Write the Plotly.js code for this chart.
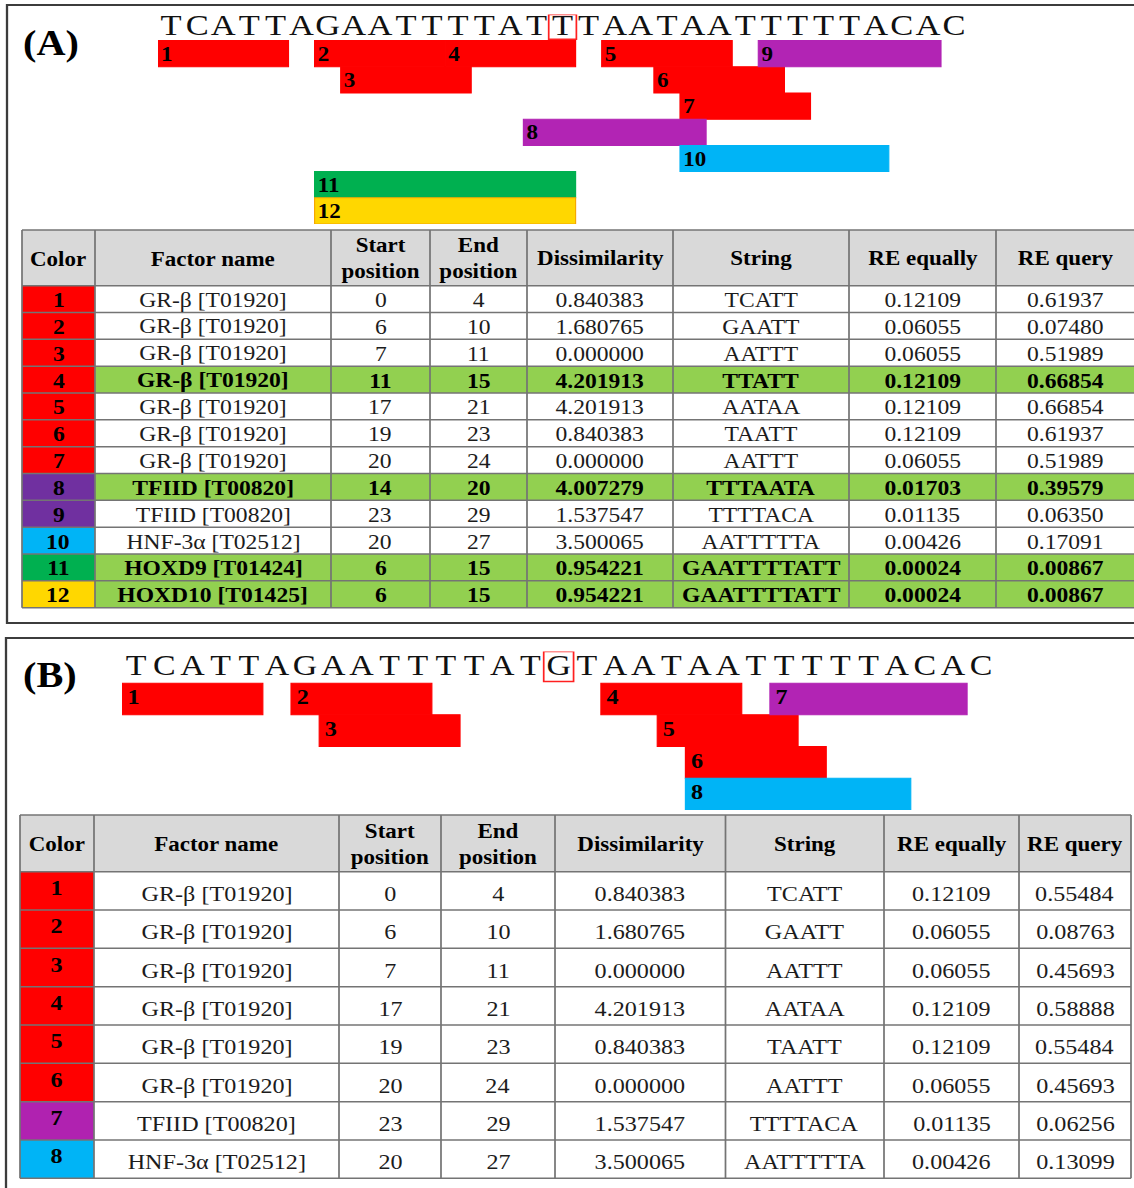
<!DOCTYPE html>
<html><head><meta charset="utf-8">
<script src="https://cdn.plot.ly/plotly-3.0.1.min.js"></script>
<style>
html,body{margin:0;padding:0;background:#fff;overflow:hidden;}
#wrap{width:1134px;height:1188px;overflow:hidden;}
#chart{width:986px;height:1188px;transform:scaleX(1.1501);transform-origin:0 0;}
</style></head>
<body><div id="wrap"><div id="chart"></div></div>
<script>
// ---------------- DATA ----------------
const seqA = "TCATTAGAATTTTATTTAATAATTTTTACAC";
const mutA = 15;
const idA = [1,2,3,4,5,6,7,8,9,10,11,12];
const factorA = ["GR-β [T01920]","GR-β [T01920]","GR-β [T01920]","GR-β [T01920]","GR-β [T01920]","GR-β [T01920]","GR-β [T01920]","TFIID [T00820]","TFIID [T00820]","HNF-3α [T02512]","HOXD9 [T01424]","HOXD10 [T01425]"];
const startA = [0,6,7,11,17,19,20,14,23,20,6,6];
const endA   = [4,10,11,15,21,23,24,20,29,27,15,15];
const dissA  = ["0.840383","1.680765","0.000000","4.201913","4.201913","0.840383","0.000000","4.007279","1.537547","3.500065","0.954221","0.954221"];
const strA   = ["TCATT","GAATT","AATTT","TTATT","AATAA","TAATT","AATTT","TTTAATA","TTTTACA","AATTTTTA","GAATTTTATT","GAATTTTATT"];
const reEqA  = ["0.12109","0.06055","0.06055","0.12109","0.12109","0.12109","0.06055","0.01703","0.01135","0.00426","0.00024","0.00024"];
const reQA   = ["0.61937","0.07480","0.51989","0.66854","0.66854","0.61937","0.51989","0.39579","0.06350","0.17091","0.00867","0.00867"];
const hiA    = [false,false,false,true,false,false,false,true,false,false,true,true];
const trackA = [1,1,2,1,1,2,3,4,1,5,6,7];
const barColA = ["#FF0000","#FF0000","#FF0000","#FF0000","#FF0000","#FF0000","#FF0000","#B224B4","#B224B4","#00B4F6","#00B050","#FFD700"];
const cellColA = ["#FF0000","#FF0000","#FF0000","#FF0000","#FF0000","#FF0000","#FF0000","#7030A0","#7030A0","#00B4F6","#00B050","#FFD700"];

const seqB = "TCATTAGAATTTTATGTAATAATTTTTACAC";
const mutB = 15;
const idB = [1,2,3,4,5,6,7,8];
const factorB = ["GR-β [T01920]","GR-β [T01920]","GR-β [T01920]","GR-β [T01920]","GR-β [T01920]","GR-β [T01920]","TFIID [T00820]","HNF-3α [T02512]"];
const startB = [0,6,7,17,19,20,23,20];
const endB   = [4,10,11,21,23,24,29,27];
const dissB  = ["0.840383","1.680765","0.000000","4.201913","0.840383","0.000000","1.537547","3.500065"];
const strB   = ["TCATT","GAATT","AATTT","AATAA","TAATT","AATTT","TTTTACA","AATTTTTA"];
const reEqB  = ["0.12109","0.06055","0.06055","0.12109","0.12109","0.06055","0.01135","0.00426"];
const reQB   = ["0.55484","0.08763","0.45693","0.58888","0.55484","0.45693","0.06256","0.13099"];
const hiB    = [false,false,false,false,false,false,false,false];
const trackB = [1,1,2,1,2,3,1,4];
const barColB = ["#FF0000","#FF0000","#FF0000","#FF0000","#FF0000","#FF0000","#B224B4","#00B4F6"];
const cellColB = ["#FF0000","#FF0000","#FF0000","#FF0000","#FF0000","#FF0000","#B022B0","#00B4F6"];

const headers = ["Color","Factor name","Start<br>position","End<br>position","Dissimilarity","String","RE equally","RE query"];

// ---------------- STYLE / LAYOUT ----------------
const SERIF = '"Liberation Serif", "Times New Roman", Times, serif';
const W = 1134, H = 1188;
const fx = px => px / W;
const fy = px => 1 - px / H;

const shapes = [];
const annotations = [];

function frame(x0, y0, x1, y1) {
  shapes.push({type:'rect', xref:'x', yref:'y', x0:x0, x1:x1, y0:y0, y1:y1,
    line:{color:'#3c3c3c', width:2}, fillcolor:'rgba(0,0,0,0)', layer:'below'});
}
frame(7, 5, 1145, 623);
frame(6, 638, 1145, 1200);

annotations.push({xref:'x', yref:'y', x:51, y:43, text:'<b>(A)</b>', showarrow:false,
  font:{family:SERIF, size:35, color:'#000'}, xanchor:'center', yanchor:'middle'});
annotations.push({xref:'x', yref:'y', x:50, y:675, text:'<b>(B)</b>', showarrow:false,
  font:{family:SERIF, size:35, color:'#000'}, xanchor:'center', yanchor:'middle'});

function motif(cfg) {
  const {seq, mut, ids, starts, ends, tracks, cols, xa, ya, labelSize, seqSize, labelDx, labelDy} = cfg;
  const traces = [];
  traces.push({type:'bar', orientation:'h', xaxis:xa, yaxis:ya,
    base: starts, x: starts.map((s,i)=>ends[i]-s+1), y: tracks, width: 1,
    marker:{color:cols,
      line:{color:cols.map(c => c === '#FFD700' ? '#F5A800' : c), width:1}},
    hoverinfo:'skip', showlegend:false, cliponaxis:false});
  traces.push({type:'scatter', mode:'text', xaxis:xa, yaxis:ya,
    x: starts.map(s => s + labelDx), y: tracks.map(t => t + labelDy),
    text: ids.map(v=>'<b>'+v+'</b>'), textposition:'middle right',
    textfont:{family:SERIF, size:labelSize, color:'#000'},
    hoverinfo:'skip', showlegend:false, cliponaxis:false});
  const letters = seq.split('');
  traces.push({type:'scatter', mode:'text', xaxis:xa, yaxis:ya,
    x: letters.map((c,i)=>i+0.5), y: letters.map(()=>0), text: letters,
    textposition:'middle center', textfont:{family:SERIF, size:seqSize, color:'#111'},
    hoverinfo:'skip', showlegend:false, cliponaxis:false});
  shapes.push({type:'rect', xref:xa, yref:ya, x0:mut-0.03, x1:mut+1.03, y0:-0.5, y1:0.45,
    line:{color:'#FF2020', width:1.5}, fillcolor:'rgba(0,0,0,0)'});
  return traces;
}

function table(cfg) {
  const {edges, top, headH, rowH, ids, cellCols, hi, cols, fontSize, headSize, bodyDy, idDy} = cfg;
  const n = ids.length;
  const bodyTop = top + headH;
  const bottom = bodyTop + n*rowH;
  for (let c = 0; c < 8; c++) {
    shapes.push({type:'rect', xref:'x', yref:'y', x0:edges[c], x1:edges[c+1], y0:top, y1:bodyTop,
      line:{width:0}, fillcolor:'#D9D9D9', layer:'below'});
    annotations.push({xref:'x', yref:'y', x:(edges[c]+edges[c+1])/2, y:top+headH/2+1,
      text:'<b>'+headers[c]+'</b>', showarrow:false, xanchor:'center', yanchor:'middle',
      font:{family:SERIF, size:headSize, color:'#000'}});
  }
  for (let r = 0; r < n; r++) {
    const y0 = bodyTop + r*rowH, y1 = y0 + rowH;
    for (let c = 0; c < 8; c++) {
      const fill = c === 0 ? cellCols[r] : (hi[r] ? '#92D050' : '#FFFFFF');
      shapes.push({type:'rect', xref:'x', yref:'y', x0:edges[c], x1:edges[c+1], y0:y0, y1:y1,
        line:{width:0}, fillcolor:fill, layer:'below'});
      const val = String(cols[c][r]);
      const bold = c === 0 || hi[r];
      annotations.push({xref:'x', yref:'y', x:(edges[c]+edges[c+1])/2,
        y:(y0+y1)/2 + (c === 0 ? idDy : bodyDy),
        text: bold ? '<b>'+val+'</b>' : val, showarrow:false, xanchor:'center', yanchor:'middle',
        font:{family:SERIF, size:fontSize, color: bold ? '#000' : '#1c1c1c'}});
    }
  }
  const gl = {color:'#747474', width:1.5};
  const hs = [top, bodyTop];
  for (let r = 1; r <= n; r++) hs.push(bodyTop + r*rowH);
  hs.forEach(y => shapes.push({type:'line', xref:'x', yref:'y', x0:edges[0], x1:edges[8], y0:y, y1:y, line:gl}));
  edges.forEach(x => shapes.push({type:'line', xref:'x', yref:'y', x0:x, x1:x, y0:top, y1:bottom, line:gl}));
}

table({edges:[22,95,331,430,527,673,849,996,1136], top:230, headH:55.7, rowH:26.83,
  ids:idA, cellCols:cellColA, hi:hiA,
  cols:[idA, factorA, startA, endA, dissA, strA, reEqA, reQA],
  fontSize:20.5, headSize:20, bodyDy:1, idDy:1});
table({edges:[20,94,339,441,555,725.5,884,1019,1131], top:815, headH:56.7, rowH:38.33,
  ids:idB, cellCols:cellColB, hi:hiB,
  cols:[idB, factorB, startB, endB, dissB, strB, reEqB, reQB],
  fontSize:21, headSize:20, bodyDy:3, idDy:-3});

const tracesA = motif({seq:seqA, mut:mutA, ids:idA, starts:startA, ends:endA, tracks:trackA,
  cols:barColA, xa:'x2', ya:'y2', labelSize:20, seqSize:30, labelDx:0.12, labelDy:0.08});
const tracesB = motif({seq:seqB, mut:mutB, ids:idB, starts:startB, ends:endB, tracks:trackB,
  cols:barColB, xa:'x3', ya:'y3', labelSize:21, seqSize:29.5, labelDx:0.2, labelDy:0.0});

const aX0 = 158, aW = 26.1, aRow0 = 27.5, aRowH = 26.2, aRows = 8;
const bX0 = 122, bW = 28.17, bRow0 = 667.3, bRowH = 31.7, bRows = 5;

const hidden = {visible:false, fixedrange:true, showgrid:false, zeroline:false};
const layout = {
  width: 986, height: H,
  margin:{l:0, r:0, t:0, b:0, pad:0},
  paper_bgcolor:'#FFFFFF', plot_bgcolor:'rgba(0,0,0,0)',
  font:{family:SERIF, color:'#000'},
  showlegend:false, barmode:'overlay', bargap:0,
  xaxis: Object.assign({range:[0, W], domain:[0,1]}, hidden),
  yaxis: Object.assign({range:[H, 0], domain:[0,1]}, hidden),
  xaxis2: Object.assign({range:[0,31], domain:[fx(aX0), fx(aX0+31*aW)], anchor:'y2'}, hidden),
  yaxis2: Object.assign({range:[aRows-0.5, -0.5], domain:[fy(aRow0-aRowH/2+aRows*aRowH), fy(aRow0-aRowH/2)], anchor:'x2'}, hidden),
  xaxis3: Object.assign({range:[0,31], domain:[fx(bX0), fx(bX0+31*bW)], anchor:'y3'}, hidden),
  yaxis3: Object.assign({range:[bRows-0.5, -0.5], domain:[fy(bRow0-bRowH/2+bRows*bRowH), fy(bRow0-bRowH/2)], anchor:'x3'}, hidden),
  shapes: shapes,
  annotations: annotations
};

const base = {type:'scatter', x:[], y:[], xaxis:'x', yaxis:'y', hoverinfo:'skip', showlegend:false};
Plotly.newPlot('chart', [base].concat(tracesA, tracesB), layout, {displayModeBar:false, staticPlot:true});
</script>
</body></html>
